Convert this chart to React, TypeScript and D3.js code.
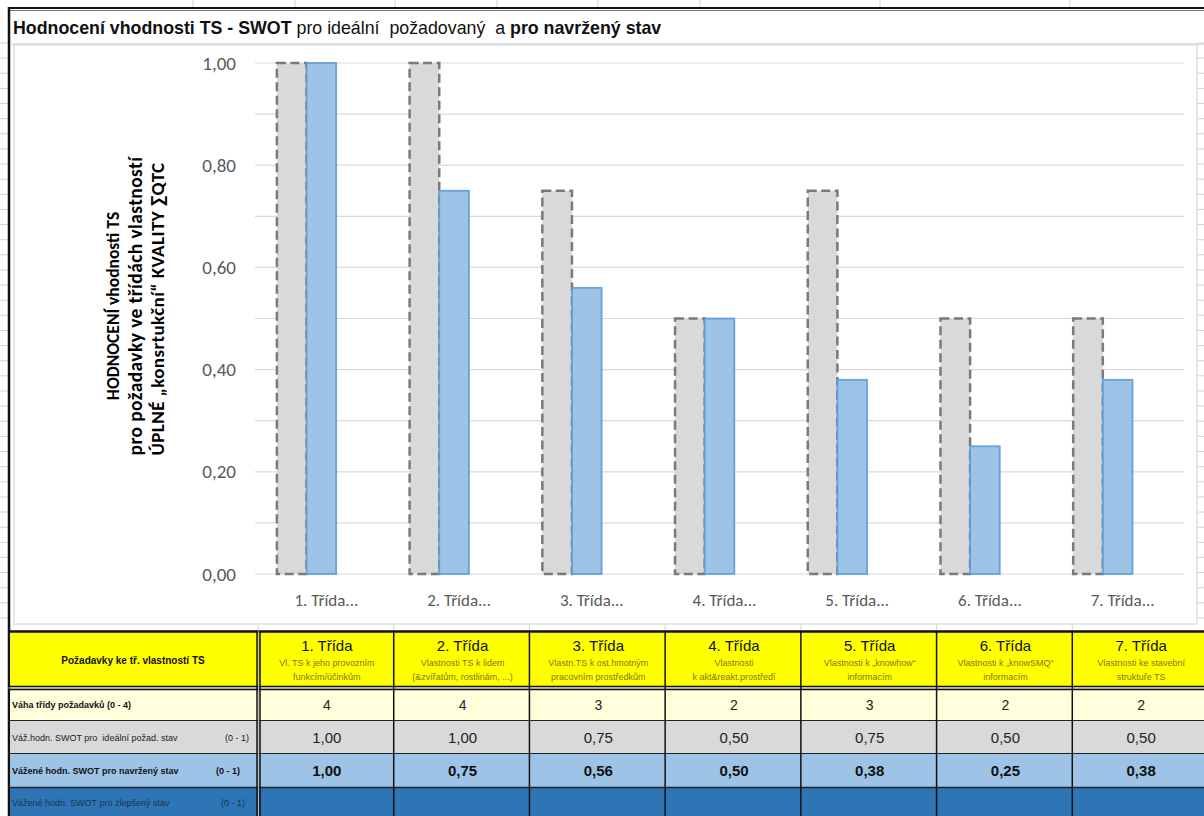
import React from "react";
import * as d3 from "d3";

// Classes of requirements (chart categories)
const categories = ["1. Třída", "2. Třída", "3. Třída", "4. Třída", "5. Třída", "6. Třída", "7. Třída"];
const categoryDescriptions = [
  ["Vl. TS k jeho provozním", "funkcím/účinkům"],
  ["Vlastnosti TS k lidem", "(&zvířatům, rostlinám, ...)"],
  ["Vlastn.TS k ost.hmotným", "pracovním prostředkům"],
  ["Vlastnosti", "k akt&reakt.prostředí"],
  ["Vlastnosti k „knowhow“", "informacím"],
  ["Vlastnosti k „knowSMQ“", "informacím"],
  ["Vlastnosti ke stavební", "struktuře TS"],
];
// Weight of each class (0 - 4)
const weights = [4, 4, 3, 2, 3, 2, 2];
// Weighted SWOT evaluation for the ideal required state (0 - 1)
const idealValues = [1.0, 1.0, 0.75, 0.5, 0.75, 0.5, 0.5];
// Weighted SWOT evaluation for the designed state (0 - 1)
const designValues = [1.0, 0.75, 0.56, 0.5, 0.38, 0.25, 0.38];
// Weighted SWOT evaluation for the improved state (0 - 1) – not filled in yet
const improvedValues: (number | null)[] = [null, null, null, null, null, null, null];
const seriesKeys = ["ideal", "design", "improved"];
const yTicks = [0, 0.2, 0.4, 0.6, 0.8, 1.0];
const yGrid = [0, 0.1, 0.2, 0.3, 0.4, 0.5, 0.6, 0.7, 0.8, 0.9, 1.0];

const W = 1204;
const H = 816;

const fmt = (v: number) => d3.format(".2f")(v).replace(".", ",");

const chartFont = "Carlito, Lato, 'Open Sans', sans-serif";
const tableFont = "'Liberation Sans', Arial, sans-serif";
const titleFont = "'Liberation Sans Narrow', 'Arial Narrow', 'Liberation Sans', sans-serif";

export default function App() {
  const x = d3.scaleBand<string>().domain(categories).range([255, 1184]).paddingInner(0.33).paddingOuter(0.165);
  const xs = d3.scaleBand<string>().domain(seriesKeys).range([0, x.bandwidth()]);
  const y = d3.scaleLinear().domain([0, 1]).range([574, 63]);

  // table geometry
  const tx = d3.scaleBand<string>().domain(categories).range([258, 1208]);
  const rows = {
    head: [633, 686],
    weight: [690, 720],
    ideal: [721, 753],
    design: [754, 787],
    improved: [788, 816],
  };

  // spreadsheet row lines visible around the chart object
  const sheetRows = d3.range(0, 39).map((i) => 43 + i * 15.13);

  return (
    <svg width={W} height={H} style={{ position: "absolute", left: 0, top: 0, background: "#fff" }}>
      {/* spreadsheet gridlines outside the chart object */}
      {sheetRows.map((yy, i) => (
        <line key={"l" + i} x1={0} x2={8} y1={yy} y2={yy} stroke="#d4d4d4" strokeWidth={1} />
      ))}
      {sheetRows.filter((yy) => yy < 625).map((yy, i) => (
        <line key={"r" + i} x1={1197} x2={1204} y1={yy} y2={yy} stroke="#d4d4d4" strokeWidth={1} />
      ))}
      {[193, 295, 395, 497, 598, 700, 880, 1070].map((xx, i) => (
        <line key={"c" + i} x1={xx} x2={xx} y1={0} y2={7} stroke="#d4d4d4" />
      ))}
      {tx.domain().map((c) => (
        <line key={"cv" + c} x1={tx(c)!} x2={tx(c)!} y1={624} y2={631} stroke="#d4d4d4" />
      ))}

      {/* outer frame */}
      <line x1={8} x2={W} y1={8} y2={8} stroke="#111" strokeWidth={2} />
      <line x1={8} x2={W} y1={10.5} y2={10.5} stroke="#777" strokeWidth={1} />
      <line x1={9} x2={9} y1={7} y2={H} stroke="#111" strokeWidth={2.5} />

      {/* title */}
      <text x={13} y={34} fontFamily={titleFont} fontSize={17.8} fill="#111" style={{ whiteSpace: "pre" }}>
        <tspan fontWeight="bold">Hodnocení vhodnosti TS - SWOT</tspan>
        <tspan>{" pro ideální  požadovaný  a "}</tspan>
        <tspan fontWeight="bold">pro navržený stav</tspan>
      </text>
      <line x1={10} x2={W} y1={44} y2={44} stroke="#d9d9d9" strokeWidth={1.5} />

      {/* chart object border */}
      <rect x={14} y={45} width={1183} height={579} fill="#fff" stroke="#d9d9d9" strokeWidth={1.2} />

      {/* gridlines */}
      {yGrid.map((v) => (
        <line key={"g" + v} x1={255} x2={1184} y1={y(v)} y2={y(v)} stroke="#d9d9d9" strokeWidth={1.2} />
      ))}

      {/* y tick labels */}
      {yTicks.map((v) => (
        <text key={"t" + v} x={236} y={y(v)} dy="0.35em" textAnchor="end" fontFamily={chartFont} fontSize={19} fill="#595959">
          {fmt(v)}
        </text>
      ))}

      {/* y axis title */}
      <g transform="translate(0,306)" fontFamily={chartFont} fill="#000" textAnchor="middle">
        <text transform="translate(119,0) rotate(-90)" fontWeight="bold" fontSize={17.5}>HODNOCENÍ vhodnosti TS</text>
        <text transform="translate(142,0) rotate(-90)" fontWeight="600" fontSize={19.5} letterSpacing={0.4}>pro požadavky ve třídách vlastností</text>
        <text transform="translate(164,3) rotate(-90)" fontWeight="600" fontSize={19} letterSpacing={0.4}>ÚPLNÉ „konsrtukční“ KVALITY ∑QTC</text>
      </g>

      {/* bars */}
      {categories.map((c, i) => {
        const x0 = x(c)!;
        const yi = y(idealValues[i]);
        const yd = y(designValues[i]);
        const imp = improvedValues[i];
        return (
          <g key={"b" + c}>
            <rect x={x0 + xs("ideal")!} y={yi} width={xs.bandwidth()} height={y(0) - yi} fill="#d9d9d9"
              stroke="#7a7a7a" strokeWidth={2.5} strokeDasharray="9 4.5" />
            <rect x={x0 + xs("design")!} y={yd} width={xs.bandwidth()} height={y(0) - yd} fill="#9dc3e6"
              stroke="#5b9bd5" strokeOpacity={0.9} strokeWidth={1.8} />
            {imp != null && (
              <rect x={x0 + xs("improved")!} y={y(imp)} width={xs.bandwidth()} height={y(0) - y(imp)} fill="#2e75b6" />
            )}
          </g>
        );
      })}

      {/* x labels */}
      {categories.map((c) => (
        <text key={"x" + c} x={x(c)! + x.bandwidth() / 2 + 5} y={606} textAnchor="middle" fontFamily={chartFont} fontSize={17} fill="#595959">
          {c + "..."}
        </text>
      ))}

      {/* ---------- table below the chart ---------- */}
      <rect x={10} y={rows.head[0]} width={W - 10} height={rows.head[1] - rows.head[0]} fill="#ffff00" />
      <rect x={10} y={rows.weight[0]} width={W - 10} height={rows.weight[1] - rows.weight[0]} fill="#ffffdc" />
      <rect x={10} y={rows.ideal[0]} width={W - 10} height={rows.ideal[1] - rows.ideal[0]} fill="#d9d9d9" />
      <rect x={10} y={rows.design[0]} width={W - 10} height={rows.design[1] - rows.design[0]} fill="#9dc3e6" />
      <rect x={10} y={rows.improved[0]} width={W - 10} height={H - rows.improved[0]} fill="#2e75b6" />

      {/* horizontal borders */}
      <line x1={8} x2={W} y1={631.5} y2={631.5} stroke="#111" strokeWidth={2.5} />
      <line x1={8} x2={W} y1={686.5} y2={686.5} stroke="#111" strokeWidth={1.5} />
      <line x1={8} x2={W} y1={688} y2={688} stroke="#aaa" strokeWidth={1.2} />
      <line x1={8} x2={W} y1={689.5} y2={689.5} stroke="#111" strokeWidth={1.5} />
      <line x1={8} x2={W} y1={720.5} y2={720.5} stroke="#222" strokeWidth={1.2} />
      <line x1={8} x2={W} y1={753.5} y2={753.5} stroke="#222" strokeWidth={1.2} />
      <line x1={8} x2={W} y1={787.5} y2={787.5} stroke="#222" strokeWidth={1.5} />

      {/* vertical borders */}
      <line x1={257} x2={257} y1={631} y2={H} stroke="#111" strokeWidth={1.5} />
      <line x1={258.6} x2={258.6} y1={631} y2={H} stroke="#bbb" strokeWidth={1} />
      <line x1={260} x2={260} y1={631} y2={H} stroke="#111" strokeWidth={1.5} />
      {categories.slice(1).map((c) => (
        <line key={"v" + c} x1={tx(c)!} x2={tx(c)!} y1={631} y2={H} stroke="#111" strokeWidth={1.5} />
      ))}

      {/* header row */}
      <text x={133} y={664} textAnchor="middle" fontFamily={tableFont} fontSize={10} fontWeight="bold" fill="#111">
        Požadavky ke tř. vlastností TS
      </text>
      {categories.map((c, i) => {
        const cx = tx(c)! + tx.bandwidth() / 2 + 1;
        return (
          <g key={"h" + c} fontFamily={tableFont} textAnchor="middle">
            <text x={cx} y={651} fontSize={15} fill="#111">{c}</text>
            <text x={cx} y={666} fontSize={9} fill="#86751c">{categoryDescriptions[i][0]}</text>
            <text x={cx} y={680} fontSize={9} fill="#86751c">{categoryDescriptions[i][1]}</text>
          </g>
        );
      })}

      {/* row labels */}
      <g fontFamily={tableFont} fontSize={9}>
        <text x={12} y={708} fontWeight="bold" fill="#111">Váha třídy požadavků (0 - 4)</text>
        <text x={12} y={741} fill="#222" style={{ whiteSpace: "pre" }}>{"Váž.hodn. SWOT pro  ideální požad. stav"}</text>
        <text x={249} y={741} textAnchor="end" fill="#222">(0 - 1)</text>
        <text x={12} y={774} fontWeight="bold" fill="#111">Vážené hodn. SWOT pro navržený stav</text>
        <text x={240} y={774} textAnchor="end" fontWeight="bold" fill="#111">(0 - 1)</text>
        <text x={12} y={806} fill="#1b3350">Vážené hodn. SWOT pro zlepšený stav</text>
        <text x={245} y={806} textAnchor="end" fill="#1b3350">(0 - 1)</text>
      </g>

      {/* row values */}
      {categories.map((c, i) => {
        const cx = tx(c)! + tx.bandwidth() / 2 + 1;
        return (
          <g key={"val" + c} fontFamily={tableFont} textAnchor="middle" fill="#222">
            <text x={cx} y={710} fontSize={14}>{weights[i]}</text>
            <text x={cx} y={743} fontSize={15}>{fmt(idealValues[i])}</text>
            <text x={cx} y={776} fontSize={15} fontWeight="bold" fill="#111">{fmt(designValues[i])}</text>
            {improvedValues[i] != null && (
              <text x={cx} y={808} fontSize={15}>{fmt(improvedValues[i] as number)}</text>
            )}
          </g>
        );
      })}
    </svg>
  );
}
